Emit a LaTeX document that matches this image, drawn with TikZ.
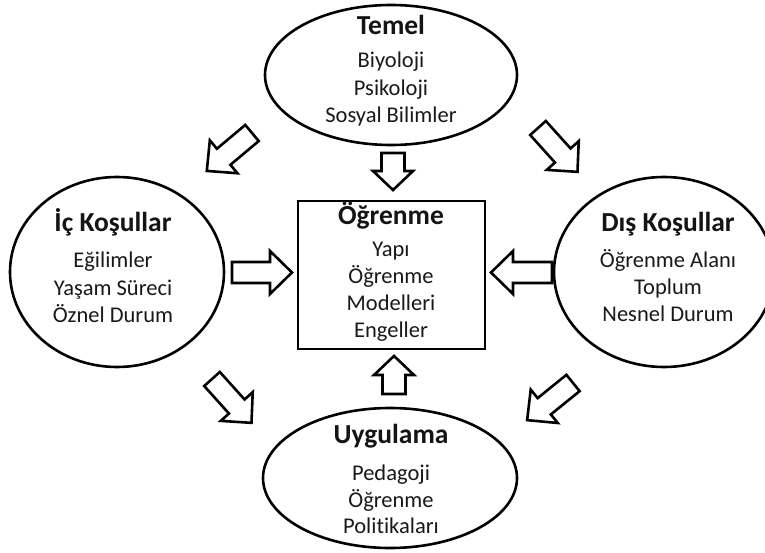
\documentclass[tikz,border=0pt]{standalone}
\usepackage{fontspec}
\setmainfont{Carlito}[Ligatures=NoCommon]
\usetikzlibrary{shapes.geometric}
\begin{document}
\begin{tikzpicture}[x=1pt,y=-1pt,
  outline/.style={draw=black, line width=2.6pt, fill=white},
  oval/.style 2 args={ellipse, outline, inner sep=0pt, minimum width=#1pt, minimum height=#2pt},
  box/.style 2 args={rectangle, outline, inner sep=0pt, minimum width=#1pt, minimum height=#2pt},
  title/.style={font=\fontsize{27.5}{33}\selectfont\bfseries, anchor=base, inner sep=0pt, text=black!92},
  body/.style={font=\fontsize{22.5}{27}\selectfont, anchor=base, inner sep=0pt, text=black!90},
  pics/fatarrow/.style n args={4}{code={
    % #1 length, #2 shaft width, #3 head width, #4 head length
    \draw[outline, line join=miter]
      (0,-#2/2) -- ({#1-#4},-#2/2) -- ({#1-#4},-#3/2) -- (#1,0)
      -- ({#1-#4},#3/2) -- ({#1-#4},#2/2) -- (0,#2/2) -- cycle;
  }}]
\useasboundingbox (0,0) rectangle (765,553);
\fill[white] (0,0) rectangle (765,553);

% the four ovals and the central box
\node[oval={252}{140}] (temel) at (391,75) {};
\node[oval={214}{190}] (ic) at (117,272) {};
\node[oval={220}{190}] (dis) at (664,272) {};
\node[oval={254}{140}] (uyg) at (390,478) {};
\node[box={187}{148}] (core) at (391.5,275) {};

% block arrows
\pic[rotate=220] (arrTL) at (252,133) {fatarrow={59}{21}{43}{22}};
\pic[rotate=-48] (arrTR) at (538,128) {fatarrow={59}{21}{43}{22}};
\pic[rotate=-48] (arrBL) at (212,379) {fatarrow={59}{21}{43}{22}};
\pic[rotate=219] (arrBR) at (573,383) {fatarrow={59}{21}{43}{22}};
\pic[rotate=-90] (arrTop) at (393,153) {fatarrow={37}{23}{40}{19}};
\pic[rotate=90] (arrBot) at (394,394) {fatarrow={38}{23}{40}{19}};
\pic (arrL) at (232,272.5) {fatarrow={60}{21}{43}{22}};
\pic[rotate=180] (arrR) at (552,272.5) {fatarrow={61}{21}{43}{22}};

% texts
\node[title] (tT) at (391,35) {Temel};
\node[body] (tT1) at (391,68) {Biyoloji};
\node[body] (tT2) at (391,96) {Psikoloji};
\node[body] (tT3) at (391,123) {Sosyal Bilimler};

\node[title] (tL) at (113,232) {İç Koşullar};
\node[body] (tL1) at (113,267) {Eğilimler};
\node[body] (tL2) at (113,295) {Yaşam Süreci};
\node[body] (tL3) at (113,322) {Öznel Durum};

\node[title] (tR) at (668,232) {Dış Koşullar};
\node[body] (tR1) at (668,267) {Öğrenme Alanı};
\node[body] (tR2) at (668,294) {Toplum};
\node[body] (tR3) at (668,321) {Nesnel Durum};

\node[title] (tC) at (391,225) {Öğrenme};
\node[body] (tC1) at (391,257) {Yapı};
\node[body] (tC2) at (391,283) {Öğrenme};
\node[body] (tC3) at (391,310) {Modelleri};
\node[body] (tC4) at (391,337) {Engeller};

\node[title] (tB) at (391,443) {Uygulama};
\node[body] (tB1) at (391,480) {Pedagoji};
\node[body] (tB2) at (391,507) {Öğrenme};
\node[body] (tB3) at (391,533) {Politikaları};
\end{tikzpicture}
\end{document}
